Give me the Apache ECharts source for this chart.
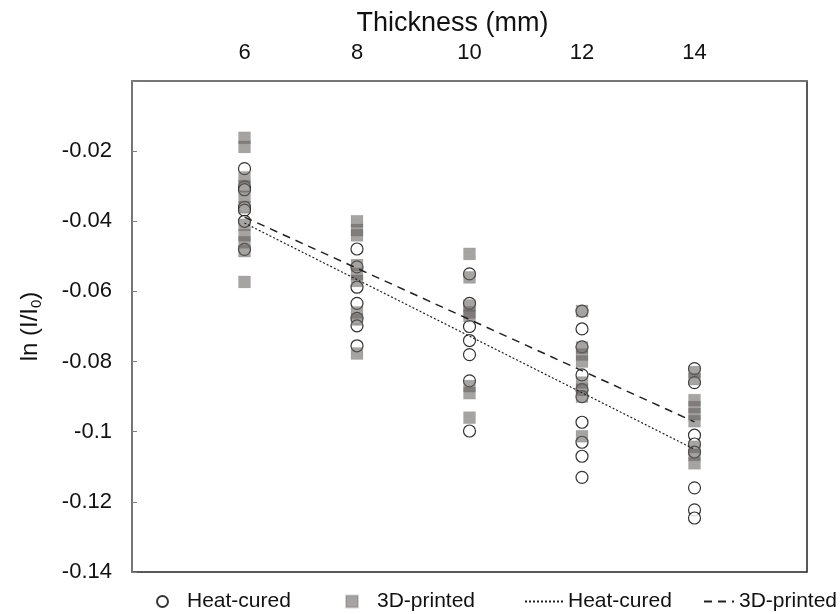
<!DOCTYPE html>
<html><head><meta charset="utf-8">
<script src="https://cdn.jsdelivr.net/npm/echarts@6/dist/echarts.min.js"></script>
<style>html,body{margin:0;padding:0;background:#fff}#c{width:840px;height:614px}</style>
</head><body><div id="c"></div>
<script>
// Thickness categories (mm)
const thicknesses = [6, 8, 10, 12, 14];
// Heat-cured measurements, ln(I/I0)
const heat6  = [-0.025, -0.0302, -0.031, -0.036, -0.0368, -0.040, -0.048];
const heat8  = [-0.0479, -0.053, -0.0588, -0.0634, -0.0677, -0.0698, -0.0755];
const heat10 = [-0.055, -0.0634, -0.070, -0.074, -0.078, -0.0855, -0.0998];
const heat12 = [-0.0656, -0.0707, -0.0758, -0.0838, -0.088, -0.090, -0.0973, -0.103, -0.107, -0.113];
const heat14 = [-0.082, -0.086, -0.101, -0.1035, -0.1058, -0.116, -0.1223, -0.1246];
// 3D-printed measurements, ln(I/I0)
const print6  = [-0.0162, -0.0188, -0.0275, -0.030, -0.033, -0.036, -0.041, -0.044, -0.046, -0.0485, -0.0573];
const print8  = [-0.040, -0.0425, -0.044, -0.0525, -0.055, -0.057, -0.066, -0.068, -0.0777];
const print10 = [-0.0493, -0.056, -0.064, -0.066, -0.067, -0.087, -0.089, -0.096];
const print12 = [-0.0656, -0.076, -0.078, -0.080, -0.086, -0.088, -0.090, -0.1013];
const print14 = [-0.083, -0.085, -0.091, -0.093, -0.095, -0.097, -0.1044, -0.1066, -0.109];
// Linear fits (value at x = 6 and x = 14)
const fitX = [6, 14];
const heatFit = [-0.0405, -0.105];
const printFit = [-0.0388, -0.0972];
// Axis labels
const xTickLabels = ['6', '8', '10', '12', '14'];
const yTickLabels = ['-0.02', '-0.04', '-0.06', '-0.08', '-0.1', '-0.12', '-0.14'];

const heatGroups = [heat6, heat8, heat10, heat12, heat14];
const printGroups = [print6, print8, print10, print12, print14];
function toPoints(groups) {
  const out = [];
  groups.forEach((g, i) => g.forEach(v => out.push([thicknesses[i], v])));
  return out;
}
const FONT = "'Liberation Sans', Arial, sans-serif";
const chart = echarts.init(document.getElementById('c'), null, {renderer: 'canvas'});
const legendText = {fontFamily: FONT, fontSize: 21, color: '#111'};
const legendTextPad = {fontFamily: FONT, fontSize: 21, color: '#111', padding: [0, 0, 0, 14]};
const fmt = n => n.replace(' fit', '');
const hiddenSym = {color: 'rgba(0,0,0,0)', borderColor: 'rgba(0,0,0,0)', borderWidth: 0};
chart.setOption({
  animation: false,
  backgroundColor: '#fff',
  grid: {left: 132, right: 33, top: 81, bottom: 42, show: true, borderColor: '#222', borderWidth: 1.5},
  legend: [
    {data: ['Heat-cured'], left: 156, top: 591, padding: 0, itemWidth: 11, itemHeight: 11, textStyle: legendTextPad, formatter: fmt},
    {data: ['3D-printed'], left: 345, top: 591, padding: 0, itemWidth: 12, itemHeight: 12, textStyle: legendTextPad, formatter: fmt},
    {data: ['Heat-cured fit'], left: 524, top: 591, padding: 0, itemWidth: 38, itemHeight: 12, itemStyle: hiddenSym, textStyle: legendText, formatter: fmt},
    {data: ['3D-printed fit'], left: 703, top: 591, padding: 0, itemWidth: 30, itemHeight: 12, itemStyle: hiddenSym, textStyle: legendText, formatter: fmt}
  ],
  xAxis: {
    type: 'value', position: 'top', min: 4, max: 16, interval: 2,
    name: 'Thickness (mm)', nameLocation: 'middle', nameGap: 42,
    nameTextStyle: {fontFamily: FONT, fontSize: 27, color: '#111', padding: [0, 34, 0, 0]},
    axisLine: {onZero: false, lineStyle: {color: '#808080', width: 1.5}},
    axisTick: {show: false},
    splitLine: {show: false},
    axisLabel: {
      fontFamily: FONT, fontSize: 22, color: '#111', margin: 17,
      formatter: v => { const i = thicknesses.indexOf(v); return i >= 0 ? xTickLabels[i] : ''; }
    }
  },
  yAxis: {
    type: 'value', min: -0.14, max: 0, interval: 0.02,
    name: 'ln (I/I{s|0})', nameLocation: 'middle', nameGap: 88, nameRotate: 90,
    nameTextStyle: {fontFamily: FONT, fontSize: 24, color: '#111',
      rich: {s: {fontFamily: FONT, fontSize: 15, color: '#111', verticalAlign: 'bottom', padding: [12, 0, 0, 0]}}},
    axisLine: {onZero: false, lineStyle: {color: '#808080', width: 1.5}},
    axisTick: {show: true, inside: true, length: 5, lineStyle: {color: '#808080'}},
    splitLine: {show: false},
    axisLabel: {
      fontFamily: FONT, fontSize: 22, color: '#111', margin: 20,
      formatter: v => { const i = Math.round(-v / 0.02) - 1; return i >= 0 && i < yTickLabels.length ? yTickLabels[i] : ''; }
    }
  },
  series: [
    {name: 'Heat-cured', type: 'scatter', symbol: 'circle', symbolSize: 12, z: 2,
     itemStyle: {color: '#fff', borderColor: '#000', borderWidth: 1.2},
     data: toPoints(heatGroups)},
    {name: '3D-printed', type: 'scatter', symbol: 'rect', symbolSize: 12, z: 3,
     itemStyle: {color: 'rgba(100,95,95,0.72)', borderColor: 'rgba(100,95,95,0.3)', borderWidth: 0.5},
     data: toPoints(printGroups)},
    {name: 'Heat-cured fit', type: 'line', symbol: 'none', z: 4,
     itemStyle: {color: '#222'},
     lineStyle: {color: '#222', width: 1.2, type: [2, 2]},
     data: fitX.map((x, i) => [x, heatFit[i]])},
    {name: '3D-printed fit', type: 'line', symbol: 'none', z: 4,
     itemStyle: {color: '#222'},
     lineStyle: {color: '#222', width: 1.5, type: [8, 6]},
     data: fitX.map((x, i) => [x, printFit[i]])}
  ]
});
</script></body></html>
